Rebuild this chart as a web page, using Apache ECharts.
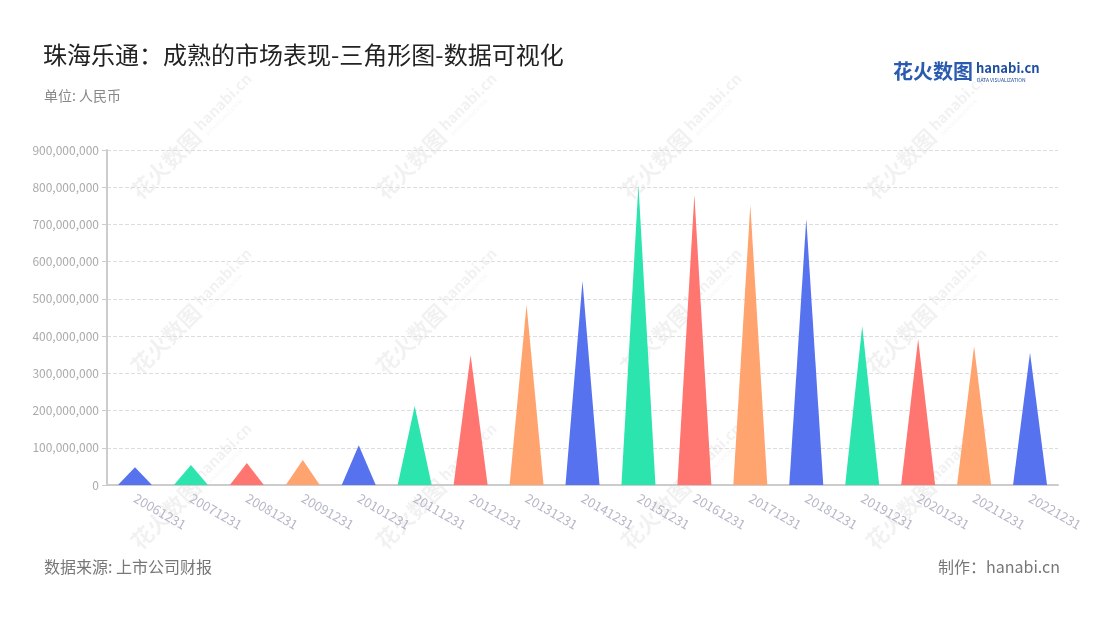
<!DOCTYPE html>
<html>
<head>
<meta charset="utf-8">
<script src="https://cdn.jsdelivr.net/npm/echarts@6/dist/echarts.min.js"></script>
<style>html,body{margin:0;padding:0;background:#fff;}#main{width:1100px;height:620px;}</style>
</head>
<body>
<div id="main"></div>
<script>
var categories = ['20061231','20071231','20081231','20091231','20101231','20111231','20121231','20131231','20141231','20151231','20161231','20171231','20181231','20191231','20201231','20211231','20221231'];
var values = [48000000, 54000000, 59000000, 67000000, 107000000, 212000000, 349000000, 484000000, 548000000, 806000000, 779000000, 753000000, 715000000, 427000000, 392000000, 373000000, 355000000];
var palette = ['#5772EE', '#2BE4AE', '#FF7570', '#FFA36F'];
var titleText = '珠海乐通：成熟的市场表现-三角形图-数据可视化';
var unitText = '单位: 人民币';
var sourceText = '数据来源: 上市公司财报';
var makerText = '制作：hanabi.cn';

var chart = echarts.init(document.getElementById('main'), null, {renderer: 'canvas'});

var fontFam = '"Noto Sans CJK SC", "Noto Sans", sans-serif';
var wm = [];
var wmX = [170, 415, 660, 905];
var wmY = [160, 335, 510];
wmY.forEach(function (y) {
  wmX.forEach(function (x) {
    wm.push({
      type: 'group', x: x, y: y, rotation: Math.PI / 4, z: 100, silent: true,
      children: [
        {type: 'text', style: {text: '花火数图', x: -50, y: 0, fill: 'rgba(0,0,0,0.055)', font: 'bold 22px ' + fontFam, textVerticalAlign: 'middle'}},
        {type: 'text', style: {text: 'hanabi.cn', x: 42, y: -4, fill: 'rgba(0,0,0,0.055)', font: 'bold 15px ' + fontFam, textVerticalAlign: 'middle'}},
        {type: 'text', style: {text: 'DATA VISUALIZATION', x: 44, y: 8, fill: 'rgba(0,0,0,0.055)', font: '5px ' + fontFam, textVerticalAlign: 'middle'}}
      ]
    });
  });
});

var option = {
  backgroundColor: '#fff',
  animation: false,
  textStyle: {fontFamily: fontFam},
  title: [
    {text: titleText, left: 38, top: 38, textStyle: {fontSize: 24, fontWeight: 'normal', color: '#222', fontFamily: fontFam}},
    {text: unitText, left: 39, top: 84, textStyle: {fontSize: 14, fontWeight: 'normal', color: '#888', fontFamily: fontFam}},
    {text: sourceText, left: 39, top: 554, textStyle: {fontSize: 16, fontWeight: 'normal', color: '#777', fontFamily: fontFam}},
    {text: makerText, right: 35, top: 554, textStyle: {fontSize: 16, fontWeight: 'normal', color: '#777', fontFamily: fontFam}}
  ],
  graphic: [
    {type: 'text', left: 893, top: 61, style: {text: '花火数图', fill: '#2A5BB0', font: 'bold 20px ' + fontFam}},
    {type: 'text', left: 976, top: 62, style: {text: 'hanabi.cn', fill: '#1F4FA0', font: 'bold 13px ' + fontFam}},
    {type: 'text', left: 977, top: 78, style: {text: 'DATA VISUALIZATION', fill: '#1F4FA0', font: '5px ' + fontFam}}
  ].concat(wm),
  grid: {left: 107, right: 42, top: 150, bottom: 135, containLabel: false},
  xAxis: {
    type: 'category',
    data: categories,
    axisLine: {lineStyle: {color: '#ccc', width: 2}},
    axisTick: {alignWithLabel: true, lineStyle: {color: '#aaa'}},
    axisLabel: {rotate: -30, color: '#b4b7c8', fontSize: 13, margin: 12, interval: 0}
  },
  yAxis: {
    type: 'value',
    min: 0, max: 900000000, interval: 100000000,
    axisLine: {show: true, lineStyle: {color: '#ccc', width: 2}},
    axisTick: {show: true, lineStyle: {color: '#ccc'}},
    axisLabel: {color: '#aaa', fontSize: 12, formatter: function (v) { return v.toLocaleString('en-US'); }},
    splitLine: {lineStyle: {color: '#ddd', type: 'dashed'}}
  },
  series: [{
    type: 'pictorialBar',
    symbol: 'triangle',
    symbolSize: [34, '100%'],
    data: values.map(function (v, i) {
      return {value: v, itemStyle: {color: palette[i % palette.length]}};
    }),
    z: 10
  }]
};
chart.setOption(option);
</script>
</body>
</html>
